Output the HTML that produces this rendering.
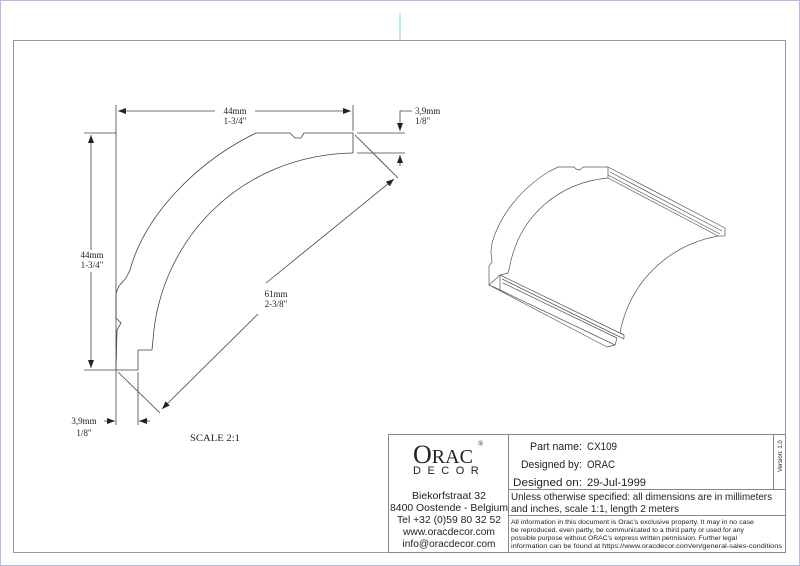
<!DOCTYPE html>
<html><head><meta charset="utf-8"><style>
html,body{margin:0;padding:0;background:#fff}
body{width:800px;height:566px;overflow:hidden;position:relative}
svg{position:absolute;left:0;top:0}
text{font-family:"Liberation Serif",serif;font-size:9px;fill:#222}
.c{font-family:"Liberation Sans",sans-serif;fill:#222}
</style></head><body>
<svg width="800" height="566" viewBox="0 0 800 566">
<defs><marker id="a" markerWidth="8" markerHeight="6" refX="8" refY="3" orient="auto" markerUnits="userSpaceOnUse"><path d="M0,0 L8,3 L0,6 z" fill="#222"/></marker></defs>
<rect x="0.5" y="0.5" width="799" height="565" fill="none" stroke="#b8b8f0" stroke-width="1"/>
<line x1="400" y1="13" x2="400" y2="40" stroke="#8fdcec" stroke-width="1.2"/>
<rect x="13.5" y="40.5" width="772" height="512" fill="none" stroke="#999" stroke-width="1"/>
<g stroke="#888" stroke-width="1" fill="none">
<rect x="388.5" y="434.5" width="397" height="118"/>
<line x1="508.5" y1="434" x2="508.5" y2="552"/>
<line x1="773.5" y1="434" x2="773.5" y2="489"/>
<line x1="508" y1="489.5" x2="786" y2="489.5"/>
<line x1="508" y1="515.5" x2="786" y2="515.5"/>
</g>
<text x="413" y="463" style="font-size:26px" fill="#111">O<tspan style="font-size:20px">RAC</tspan></text>
<text x="478" y="446" style="font-size:7px">®</text>
<text x="413" y="474" class="c" style="font-size:11px;letter-spacing:6.5px">DECOR</text>
<g text-anchor="middle">
<text x="449" y="499" class="c" style="font-size:10.5px" textLength="74" lengthAdjust="spacingAndGlyphs">Biekorfstraat 32</text>
<text x="449" y="511" class="c" style="font-size:10.5px" textLength="118" lengthAdjust="spacingAndGlyphs">8400 Oostende - Belgium</text>
<text x="449" y="523" class="c" style="font-size:10.5px" textLength="104" lengthAdjust="spacingAndGlyphs">Tel  +32 (0)59 80 32 52</text>
<text x="449" y="535" class="c" style="font-size:10.5px" textLength="92" lengthAdjust="spacingAndGlyphs">www.oracdecor.com</text>
<text x="449" y="547" class="c" style="font-size:10.5px" textLength="93" lengthAdjust="spacingAndGlyphs">info@oracdecor.com</text>
</g>
<text x="530" y="450" class="c" style="font-size:11px" textLength="52" lengthAdjust="spacingAndGlyphs">Part name:</text>
<text x="587" y="450" class="c" style="font-size:11px" textLength="30" lengthAdjust="spacingAndGlyphs">CX109</text>
<text x="521" y="468" class="c" style="font-size:11px" textLength="61" lengthAdjust="spacingAndGlyphs">Designed by:</text>
<text x="587" y="468" class="c" style="font-size:11px" textLength="28" lengthAdjust="spacingAndGlyphs">ORAC</text>
<text x="513" y="486" class="c" style="font-size:11px" textLength="69" lengthAdjust="spacingAndGlyphs">Designed on:</text>
<text x="587" y="486" class="c" style="font-size:11px" textLength="59" lengthAdjust="spacingAndGlyphs">29-Jul-1999</text>
<text x="511" y="500" class="c" style="font-size:10.5px" textLength="261" lengthAdjust="spacingAndGlyphs">Unless otherwise specified: all dimensions are in millimeters</text>
<text x="511" y="512" class="c" style="font-size:10.5px" textLength="168" lengthAdjust="spacingAndGlyphs">and inches, scale 1:1, length 2 meters</text>
<text x="511" y="524" class="c" style="font-size:6.4px" textLength="243" lengthAdjust="spacingAndGlyphs">All information in this document is Orac's exclusive property.  It may in no case</text>
<text x="511" y="532" class="c" style="font-size:6.4px" textLength="233" lengthAdjust="spacingAndGlyphs">be reproduced, even partly, be communicated to a third party or used for any</text>
<text x="511" y="540" class="c" style="font-size:6.4px" textLength="226" lengthAdjust="spacingAndGlyphs">possible purpose without ORAC's express written permission. Further legal</text>
<text x="511" y="548" class="c" style="font-size:6.4px" textLength="271" lengthAdjust="spacingAndGlyphs">information can be found at https://www.oracdecor.com/en/general-sales-conditions</text>
<text x="0" y="0" class="c" style="font-size:6px" transform="translate(782,472) rotate(-90)">Version: 1.0</text>

<g stroke="#444" stroke-width="0.8" fill="none">
<path d="M256,133 L290,133 L295,138 L301,138 L304,133 L353,133 L353,153"/>
<path d="M256,133 L248,137 C195,165 145,215 130,270 L126,278 L119,286 L116,293 L116,318 L121,323 L117,330 L116,370 L138,370 L138,350 L152,350 L153,340 C160,240 240,155 353,153"/>
<line x1="116" y1="105" x2="116" y2="425"/>
<line x1="353" y1="105" x2="353" y2="131"/>
<line x1="84" y1="133" x2="116" y2="133"/>
<line x1="84" y1="370" x2="116" y2="370"/>
<line x1="357" y1="133" x2="405" y2="133"/>
<line x1="357" y1="153" x2="405" y2="153"/>
<line x1="138" y1="372" x2="138" y2="425"/>
<line x1="118" y1="372" x2="160" y2="413"/>
<line x1="355" y1="135" x2="398" y2="178"/>
<line x1="215" y1="111" x2="118" y2="111" marker-end="url(#a)"/>
<line x1="255" y1="111" x2="351" y2="111" marker-end="url(#a)"/>
<line x1="91" y1="250" x2="91" y2="135" marker-end="url(#a)"/>
<line x1="91" y1="272" x2="91" y2="368" marker-end="url(#a)"/>
<line x1="266" y1="283" x2="394" y2="179" marker-end="url(#a)"/>
<line x1="258" y1="314" x2="162" y2="409" marker-end="url(#a)"/>
<path d="M412,111 L400,111 L400,131" marker-end="url(#a)"/>
<line x1="400" y1="166" x2="400" y2="155" marker-end="url(#a)"/>
<line x1="104" y1="421" x2="115" y2="421" marker-end="url(#a)"/>
<line x1="150" y1="421" x2="139" y2="421" marker-end="url(#a)"/>
</g>
<g text-anchor="middle">
<text x="235" y="114">44mm</text><text x="235" y="124">1-3/4"</text>
<text x="92" y="258">44mm</text><text x="92" y="268">1-3/4"</text>
<text x="276" y="297">61mm</text><text x="276" y="307">2-3/8"</text>
<text x="84" y="424">3,9mm</text><text x="84" y="436">1/8"</text>
</g>
<text x="415" y="114">3,9mm</text><text x="415" y="124">1/8"</text>
<text x="190" y="441" style="font-size:9.5px" textLength="50" lengthAdjust="spacingAndGlyphs">SCALE  2:1</text>

<g stroke="#555" stroke-width="0.7" fill="none">
<path d="M608,167 L583,167 L580,170 L576,169 L574,167 L558,167 L548,172 C520,190 500,215 492,243 L491,252 L492,262 L489,266 L489,285 L500,290"/>
<path d="M608,167 L608,178"/>
<path d="M608,178 C560,182 520,215 510,265 L508,273"/>
<path d="M500,275 L508,273"/>
<path d="M500,275 L500,290 M500,275 L489,285"/>
<line x1="608" y1="167" x2="725" y2="228"/>
<line x1="608" y1="178" x2="718" y2="236"/>
<line x1="610" y1="172" x2="722" y2="231"/>
<line x1="608" y1="175" x2="720" y2="234"/>
<line x1="725" y1="228" x2="725" y2="236"/>
<line x1="725" y1="236" x2="718" y2="236"/>
<path d="M718,236 C670,245 630,280 620,333"/>
<line x1="500" y1="275" x2="624" y2="335"/>
<line x1="502" y1="279" x2="624" y2="339"/>
<line x1="503" y1="283" x2="617" y2="338"/>
<line x1="500" y1="290" x2="615" y2="345"/>
<line x1="489" y1="285" x2="607" y2="347"/>
<line x1="624" y1="335" x2="624" y2="339"/>
<line x1="617" y1="338" x2="615" y2="345"/>
<line x1="615" y1="345" x2="607" y2="347"/>
<line x1="620" y1="333" x2="624" y2="335"/>
</g>
</svg>
</body></html>
